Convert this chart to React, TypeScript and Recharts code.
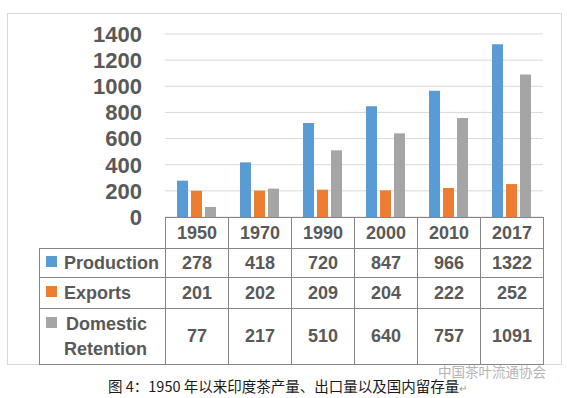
import React from "react"
import { Bar, BarChart, CartesianGrid, XAxis, YAxis } from "recharts"

const years = ["1950", "1970", "1990", "2000", "2010", "2017"]
const production = [278, 418, 720, 847, 966, 1322]
const exportsVals = [201, 202, 209, 204, 222, 252]
const domestic = [77, 217, 510, 640, 757, 1091]
const yTicks = [0, 200, 400, 600, 800, 1000, 1200, 1400]

const seriesNames = ["Production", "Exports", "Domestic Retention"]
const seriesColors = ["#5B9BD5", "#ED7D31", "#A5A5A5"]
const caption = "图 4：1950 年以来印度茶产量、出口量以及国内留存量"
const watermark = "中国茶叶流通协会"

const data = years.map((year, i) => ({
  year,
  production: production[i],
  exports: exportsVals[i],
  domestic: domestic[i],
}))

const rows = [production, exportsVals, domestic]

const FONT = "'Liberation Sans', Arial, sans-serif"
const TEXT = "#595959"
const LINE = "#858585"

// table geometry
const tableLeft = 39
const labelW = 126
const colW = 63
const rowTops = [217, 248, 277, 308, 364]

function Cell({ x, y, w, h, children, align = "center" }: any) {
  return (
    <div
      style={{
        position: "absolute",
        left: x,
        top: y,
        width: w + 1,
        height: h + 1,
        boxSizing: "border-box",
        border: `1px solid ${LINE}`,
        display: "flex",
        alignItems: "center",
        justifyContent: align,
        fontWeight: "bold",
        fontSize: 18,
        color: TEXT,
      }}
    >
      {children}
    </div>
  )
}

function DataTable() {
  const cells: React.ReactNode[] = []
  const colLeft = tableLeft + labelW
  years.forEach((y, c) => {
    cells.push(
      <Cell key={"h" + c} x={colLeft + c * colW} y={rowTops[0]} w={colW} h={rowTops[1] - rowTops[0]}>
        {y}
      </Cell>
    )
  })
  rows.forEach((vals, r) => {
    const top = rowTops[r + 1]
    const h = rowTops[r + 2] - top
    const words = seriesNames[r].split(" ")
    cells.push(
      <Cell key={"l" + r} x={tableLeft} y={top} w={labelW} h={h} align="flex-start">
        <div style={{ display: "flex", alignItems: "flex-start", paddingLeft: 6 }}>
          <div
            style={{
              width: 11,
              height: 11,
              background: seriesColors[r],
              marginTop: 5,
              marginRight: words.length > 1 ? 9 : 7,
              flexShrink: 0,
            }}
          />
          <div style={{ lineHeight: "25px" }}>
            {words.map((w, i) => (
              <div key={i} style={{ marginLeft: i > 0 ? -2 : 0 }}>{w}</div>
            ))}
          </div>
        </div>
      </Cell>
    )
    vals.forEach((v, c) => {
      cells.push(
        <Cell key={r + "-" + c} x={colLeft + c * colW} y={top} w={colW} h={h}>
          {v}
        </Cell>
      )
    })
  })
  return <>{cells}</>
}

export default function App() {
  return (
    <div
      style={{
        position: "absolute",
        left: 0,
        top: 0,
        width: 567,
        height: 398,
        background: "#fff",
        fontFamily: FONT,
      }}
    >
      <div
        style={{
          position: "absolute",
          left: 7,
          top: 13,
          width: 555,
          height: 352,
          boxSizing: "border-box",
          border: "1px solid #d9d9d9",
        }}
      />
      <div style={{ position: "absolute", left: 0, top: 0 }}>
        <BarChart
          width={567}
          height={240}
          data={data}
          margin={{ top: 34, right: 24, bottom: 23, left: 105 }}
          barSize={11}
          barGap={3}
        >
          <CartesianGrid horizontal vertical={false} stroke="#d9d9d9" />
          <XAxis dataKey="year" hide />
          <YAxis
            width={60}
            domain={[0, 1400]}
            ticks={yTicks}
            interval={0}
            axisLine={false}
            tickLine={false}
            tickSize={6}
            tickMargin={17}
            tick={{ fill: TEXT, fontSize: 22, fontWeight: "bold", fontFamily: FONT }}
          />
          <Bar dataKey="production" fill={seriesColors[0]} isAnimationActive={false} />
          <Bar dataKey="exports" fill={seriesColors[1]} isAnimationActive={false} />
          <Bar dataKey="domestic" fill={seriesColors[2]} isAnimationActive={false} />
        </BarChart>
      </div>
      <DataTable />
      <div
        style={{
          position: "absolute",
          left: 438,
          top: 364,
          fontSize: 13.5,
          lineHeight: "14px",
          color: "#b4b4b4",
          fontFamily: "'Noto Sans CJK SC', sans-serif",
          whiteSpace: "nowrap",
        }}
      >
        {watermark}
      </div>
      <div
        style={{
          position: "absolute",
          left: 108,
          top: 378,
          fontSize: 14.5,
          color: "#1a1a1a",
          fontFamily: "'Noto Sans CJK SC', sans-serif",
          whiteSpace: "nowrap",
          lineHeight: "16px",
        }}
      >
        {caption}
        <span style={{ color: "#999", fontSize: 10, lineHeight: "10px" }}>↵</span>
      </div>
    </div>
  )
}
